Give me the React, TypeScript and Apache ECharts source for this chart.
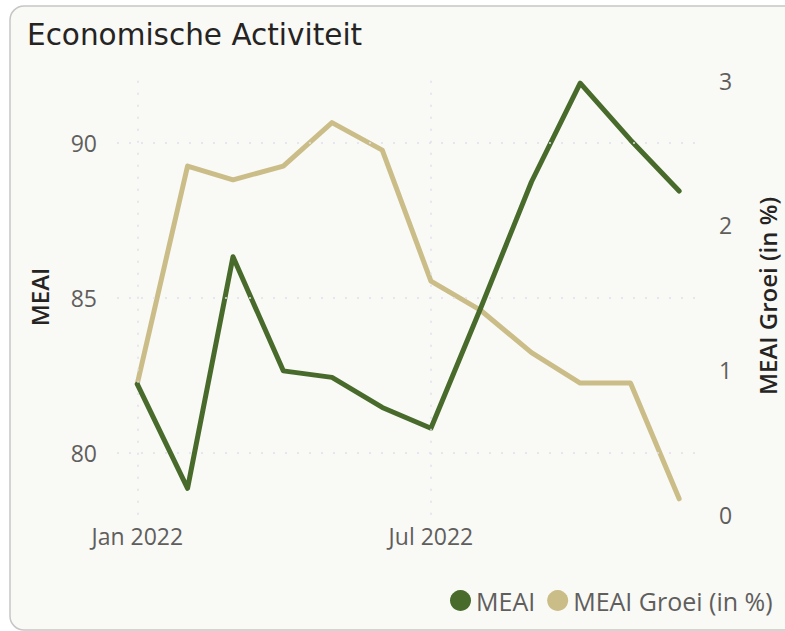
import React, { useEffect, useRef } from "react";
import * as echarts from "echarts";

const months = ["2022-01", "2022-02", "2022-03", "2022-04", "2022-05", "2022-06", "2022-07", "2022-08", "2022-09", "2022-10", "2022-11", "2022-12"];
const meai = [82.21, 78.85, 86.32, 82.64, 82.43, 81.46, 80.79, 84.71, 88.74, 91.92, 90.09, 88.44];
const meaiGroei = [0.905, 2.41, 2.315, 2.41, 2.71, 2.52, 1.615, 1.41, 1.12, 0.91, 0.91, 0.11];
const xTickMonths = ["2022-01", "2022-07"];
const xTickLabels = ["Jan 2022", "Jul 2022"];
const leftTicks = [80, 85, 90];

const DAY = 86400000;
const origin = Date.UTC(2022, 0, 1);
const toDay = (m: string) => {
  const [y, mo] = m.split("-").map(Number);
  return (Date.UTC(y, mo - 1, 1) - origin) / DAY;
};

const GREEN = "#486b2b";
const TAN = "#cbbd87";
const LABEL = "#605e5c";
const DARK = "#252423";
const FONT = "'Open Sans', 'Noto Sans', sans-serif";

export default function App() {
  const ref = useRef<HTMLDivElement>(null);
  useEffect(() => {
    if (!ref.current) return;
    const chart = echarts.init(ref.current, undefined, { renderer: "svg" });
    const xTickDays = xTickMonths.map(toDay);
    const gridLineStyle = { color: "#e0e0ee", type: [2, 10] as any, width: 1.5 };
    chart.setOption({
      animation: false,
      backgroundColor: "#ffffff",
      textStyle: { fontFamily: FONT },
      graphic: [
        {
          type: "rect",
          z: -10,
          silent: true,
          shape: { x: 10, y: 6, width: 800, height: 624, r: 14 },
          style: { fill: "#f9f9f6", stroke: "#c6c6c6", lineWidth: 1.5 },
        },
        {
          type: "text",
          x: 27,
          y: 35,
          style: {
            text: "Economische Activiteit",
            fill: DARK,
            font: "normal 29.5px 'DejaVu Sans', sans-serif",
            verticalAlign: "middle",
            align: "left",
          },
        },
        {
          type: "text",
          x: 39,
          y: 297,
          rotation: Math.PI / 2,
          style: {
            text: "MEAI",
            fill: DARK,
            font: `600 24px ${FONT}`,
            lineHeight: 24,
            align: "center",
            verticalAlign: "middle",
          },
        },
        {
          type: "text",
          x: 767,
          y: 296,
          rotation: Math.PI / 2,
          style: {
            text: "MEAI Groei (in %)",
            fill: DARK,
            font: `600 24px ${FONT}`,
            lineHeight: 24,
            align: "center",
            verticalAlign: "middle",
          },
        },
      ],
      legend: {
        left: 445,
        top: 583,
        icon: "circle",
        itemWidth: 21,
        itemHeight: 21,
        itemGap: 12,
        textStyle: { color: LABEL, fontSize: 25, fontFamily: FONT },
        data: ["MEAI", "MEAI Groei (in %)"],
      },
      grid: { left: 117, right: 88, top: 80.7, bottom: 116.3, containLabel: false },
      xAxis: {
        type: "value",
        min: -12.5,
        max: 345,
        axisLine: { show: false },
        axisTick: { show: false, customValues: xTickDays },
        splitLine: { show: false },
        axisLabel: {
          customValues: xTickDays,
          color: LABEL,
          fontSize: 23,
          margin: 10,
          formatter: (v: number) => {
            const i = xTickDays.indexOf(v);
            return i >= 0 ? xTickLabels[i] : "";
          },
        },
      },
      yAxis: [
        {
          type: "value",
          min: 78,
          max: 92,
          interval: 1,
          axisLine: { show: false },
          axisTick: { show: false },
          splitLine: { show: false },
          axisLabel: {
            color: LABEL,
            fontSize: 23,
            margin: 20,
            formatter: (v: number) => (leftTicks.includes(v) ? String(v) : ""),
          },
        },
        {
          type: "value",
          min: 0,
          max: 3,
          interval: 1,
          position: "right",
          axisLine: { show: false },
          axisTick: { show: false },
          splitLine: { show: false },
          axisLabel: { color: LABEL, fontSize: 23, margin: 22 },
        },
      ],
      series: [
        {
          name: "MEAI Groei (in %)",
          type: "line",
          yAxisIndex: 1,
          z: 2,
          data: months.map((m, i) => [toDay(m), meaiGroei[i]]),
          showSymbol: false,
          symbol: "circle",
          lineStyle: { color: TAN, width: 5, cap: "round", join: "round" },
          itemStyle: { color: TAN },
          markLine: {
            silent: true,
            symbol: "none",
            label: { show: false },
            lineStyle: gridLineStyle,
            data: xTickDays.map((d) => ({ xAxis: d })),
          },
        },
        {
          name: "MEAI",
          type: "line",
          yAxisIndex: 0,
          z: 3,
          data: months.map((m, i) => [toDay(m), meai[i]]),
          showSymbol: false,
          symbol: "circle",
          lineStyle: { color: GREEN, width: 5, cap: "round", join: "round" },
          itemStyle: { color: GREEN },
          markLine: {
            silent: true,
            symbol: "none",
            label: { show: false },
            lineStyle: gridLineStyle,
            data: leftTicks.map((v) => ({ yAxis: v })),
          },
        },
      ],
    });
    return () => chart.dispose();
  }, []);
  return (
    <div
      ref={ref}
      style={{ position: "absolute", left: 0, top: 0, width: 785, height: 631 }}
    />
  );
}
